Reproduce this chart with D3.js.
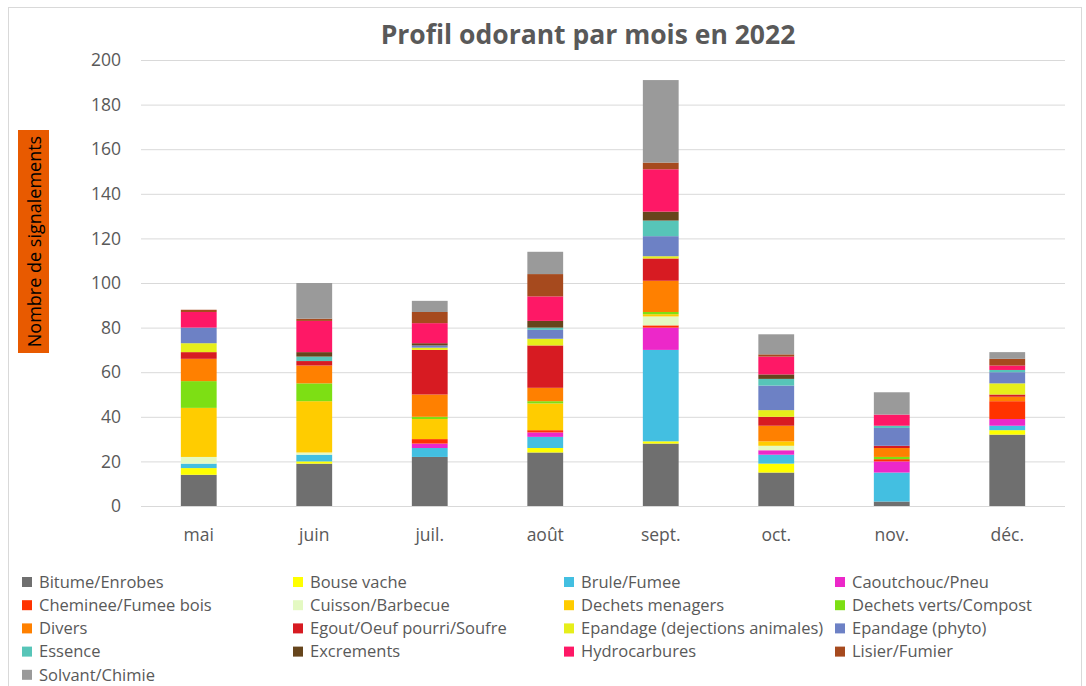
<!DOCTYPE html>
<meta charset="utf-8">
<style>
body { margin: 0; background: #fff; }
text { font-family: "Open Sans", "Noto Sans", sans-serif; }
.tick line { stroke: #d9d9d9; }
.axis path { display: none; }
</style>
<svg width="1086" height="686"></svg>
<script src="https://cdn.jsdelivr.net/npm/d3@7"></script>
<script>

var months = ["mai", "juin", "juil.", "août", "sept.", "oct.", "nov.", "déc."];

var seriesNames = ["Bitume/Enrobes", "Bouse vache", "Brule/Fumee", "Caoutchouc/Pneu",
  "Cheminee/Fumee bois", "Cuisson/Barbecue", "Dechets menagers", "Dechets verts/Compost",
  "Divers", "Egout/Oeuf pourri/Soufre", "Epandage (dejections animales)", "Epandage (phyto)",
  "Essence", "Excrements", "Hydrocarbures", "Lisier/Fumier", "Solvant/Chimie"];

var seriesColors = ["#6f6f6f", "#ffff00", "#43bfe1", "#ec28c9",
  "#ff3300", "#e4f9c2", "#ffcc00", "#7ddf14",
  "#ff8000", "#d71b22", "#e6ee1b", "#6d81c5",
  "#57c5b8", "#66451c", "#fe1866", "#a64a1e", "#9a9a9a"];

// one row per series, one value per month (mai .. déc.)
var bitume      = [14, 19, 22, 24, 28, 15,  2, 32];
var bouse       = [ 3,  1,  0,  2,  1,  4,  0,  2];
var brule       = [ 2,  3,  4,  5, 41,  4, 13,  2];
var caoutchouc  = [ 0,  0,  2,  2, 10,  2,  5,  3];
var cheminee    = [ 0,  0,  2,  1,  1,  0,  1,  8];
var cuisson     = [ 3,  1,  0,  0,  4,  2,  0,  0];
var menagers    = [22, 23,  9, 12,  1,  2,  0,  0];
var verts       = [12,  8,  1,  1,  1,  0,  1,  0];
var divers      = [10,  8, 10,  6, 14,  7,  4,  2];
var egout       = [ 3,  2, 20, 19, 10,  4,  1,  1];
var epandAnimal = [ 4,  0,  1,  3,  1,  3,  0,  5];
var epandPhyto  = [ 7,  0,  1,  4,  9, 11,  8,  5];
var essence     = [ 0,  2,  0,  1,  7,  3,  1,  1];
var excrements  = [ 0,  2,  1,  3,  4,  2,  0,  0];
var hydrocarb   = [ 7, 14,  9, 11, 19,  8,  5,  2];
var lisier      = [ 1,  1,  5, 10,  3,  1,  0,  3];
var solvant     = [ 0, 16,  5, 10, 37,  9, 10,  3];

var seriesValues = [bitume, bouse, brule, caoutchouc, cheminee, cuisson, menagers, verts,
  divers, egout, epandAnimal, epandPhyto, essence, excrements, hydrocarb, lisier, solvant];

var yTicks = [0, 20, 40, 60, 80, 100, 120, 140, 160, 180, 200];

var svg = d3.select("svg");

// chart frame
svg.append("rect")
    .attr("x", 8.5).attr("y", 7.5)
    .attr("width", 1073).attr("height", 690)
    .attr("fill", "#fff").attr("stroke", "#d9d9d9");

var x = d3.scaleBand().domain(months).range([141, 1065]).paddingInner(0.69).paddingOuter(0.345);
var y = d3.scaleLinear().domain([0, 200]).range([506, 60]);
var color = d3.scaleOrdinal(seriesNames, seriesColors);

// gridlines + y labels
svg.append("g")
    .attr("class", "axis")
    .attr("transform", "translate(141,0)")
    .call(d3.axisLeft(y).tickValues(yTicks).tickSize(-924).tickPadding(20))
    .call(function(g) {
      g.selectAll("text").attr("fill", "#595959").style("font-size", "17.5px");
    });

// table for the stack
var table = months.map(function(m, i) {
  var row = {month: m};
  seriesNames.forEach(function(s, j) { row[s] = seriesValues[j][i]; });
  return row;
});

var stacked = d3.stack().keys(seriesNames)(table);

svg.append("g").selectAll("g")
  .data(stacked)
  .enter().append("g")
    .attr("fill", function(d) { return color(d.key); })
  .selectAll("rect")
  .data(function(d) { return d; })
  .enter().append("rect")
    .attr("x", function(d) { return x(d.data.month); })
    .attr("width", x.bandwidth())
    .attr("y", function(d) { return y(d[1]); })
    .attr("height", function(d) { return y(d[0]) - y(d[1]); });

// x labels
svg.append("g")
    .attr("class", "axis")
    .attr("transform", "translate(0,506)")
    .call(d3.axisBottom(x).tickSize(0).tickPadding(23))
    .call(function(g) {
      g.selectAll("text").attr("fill", "#595959").style("font-size", "17.5px");
    });

// title
svg.append("text")
    .attr("x", 588).attr("y", 44)
    .attr("text-anchor", "middle")
    .attr("fill", "#595959")
    .attr("font-weight", "bold")
    .style("font-size", "26.5px")
    .text("Profil odorant par mois en 2022");

// y axis title in orange box
svg.append("rect")
    .attr("x", 18).attr("y", 130)
    .attr("width", 31).attr("height", 223)
    .attr("fill", "#e85a00");
svg.append("text")
    .attr("transform", "translate(40.5,241.5) rotate(-90)")
    .attr("text-anchor", "middle")
    .attr("fill", "#000")
    .style("font-size", "18px")
    .text("Nombre de signalements");

// legend
var legend = svg.append("g").selectAll("g")
  .data(seriesNames)
  .enter().append("g")
    .attr("transform", function(d, i) {
      return "translate(" + (22 + (i % 4) * 271) + "," + (582 + Math.floor(i / 4) * 23.2) + ")";
    });

legend.append("rect")
    .attr("x", 0).attr("y", -5)
    .attr("width", 10).attr("height", 10)
    .attr("fill", function(d) { return color(d); });

legend.append("text")
    .attr("x", 17).attr("dy", "0.35em")
    .attr("fill", "#595959")
    .style("font-size", "16.5px")
    .text(function(d) { return d; });

</script>
